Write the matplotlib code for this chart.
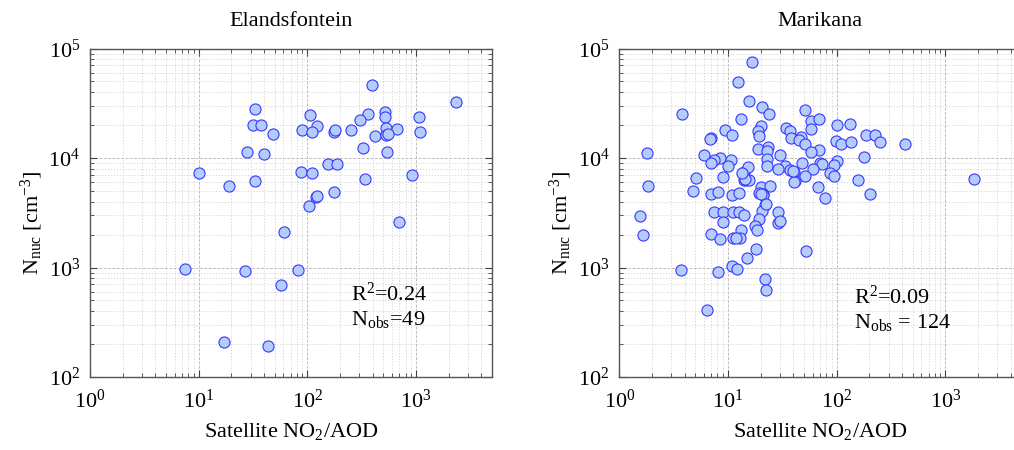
import math
import matplotlib
matplotlib.use("Agg")
import matplotlib.pyplot as plt
from matplotlib.ticker import LogLocator, NullFormatter, FuncFormatter

# -----------------------------
# Data
# -----------------------------
eland_x = [397, 2345, 33, 105, 365, 516, 513, 1062, 304, 31.8, 37.4, 122, 48.6, 90,
           111, 174, 181, 253, 527, 675, 1084, 415, 524, 550, 324, 535, 27.6, 39.9,
           10.0, 86.8, 110, 154, 189, 916, 19.0, 32.7, 338, 120, 123, 176, 103, 695,
           61.4, 7.5, 26.8, 82, 56.8, 17.2, 43.7]
eland_y = [46000, 32400, 28200, 24500, 25200, 26200, 23500, 23500, 22400, 19900,
           20100, 19600, 16700, 18100, 17300, 17400, 18000, 18100, 18800, 18300,
           17400, 15900, 16100, 16700, 12300, 11300, 11300, 10900, 7240, 7450, 7240,
           8870, 8870, 7050, 5600, 6210, 6440, 4440, 4460, 4900, 3620, 2590, 2100,
           973, 933, 946, 690, 210, 190]

marik_x = [16.7, 12.4, 15.5, 3.76, 20.4, 23.8, 13.3, 50.8, 57.7, 69.3, 100, 134, 58.2,
           9.38, 20.2, 18.8, 34.5, 37.6, 37.8, 47.4, 10.9, 6.98, 6.89, 19.1, 188, 226,
           253, 98.6, 110, 135, 424, 45.4, 51.2, 1.78, 19.0, 23.3, 23.0, 69.3, 57.7,
           30.4, 6.02, 8.51, 7.50, 10.7, 6.93, 10.0, 22.8, 22.8, 177, 101, 95.2, 70.3,
           73.3, 47.7, 33.8, 28.6, 37.1, 40.3, 60.2, 86.8, 94.6, 50.8, 41.5, 40.9, 156,
           1845, 66.9, 77.6, 204, 5.12, 4.74, 1.82, 9.06, 14.0, 15.4, 13.9, 14.7, 15.7,
           6.93, 8.09, 10.9, 12.5, 20.2, 24.6, 19.1, 20.8, 20.9, 21.8, 7.39, 9.00, 11.2,
           12.5, 14.0, 20.4, 29.0, 9.0, 19.1, 17.8, 18.6, 29.0, 30.4, 13.1, 7.03, 8.45,
           11.2, 12.8, 1.55, 1.66, 18.1, 15.0, 52.7, 10.9, 12.0, 3.71, 8.09, 21.7, 22.5,
           6.41, 11.8, 22.6, 14.3, 20.0, 40.0, 13.6]
marik_y = [75000, 49600, 32900, 25200, 29000, 25200, 22700, 27200, 21600, 22800, 20100,
           20600, 18400, 18200, 19500, 17600, 18900, 17600, 15300, 15700, 16300, 15100,
           14800, 15800, 16100, 16300, 14000, 14200, 13400, 14000, 13400, 14600, 13500,
           11200, 12200, 12500, 11600, 11800, 11300, 10700, 10700, 10100, 9660, 9590,
           8930, 8500, 9800, 8500, 10200, 9330, 8630, 9060, 8810, 8990, 8450, 7880, 7780,
           7400, 7880, 7350, 6900, 6900, 6210, 6000, 6250, 6490, 5480, 4350, 4700, 6530,
           5000, 5560, 6710, 7500, 8340, 6340, 6300, 6340, 4670, 4860, 4630, 4800, 5480,
           5520, 4770, 4730, 4550, 3720, 3220, 3180, 3220, 3220, 3000, 3290, 3240, 2610,
           2780, 2370, 2220, 2570, 2670, 2190, 2030, 1810, 1870, 1850, 2960, 1960, 1480,
           1220, 1420, 1030, 966, 946, 912, 778, 621, 406, 1850, 3800, 6450, 4650, 7600,
           7300]

sites = ["Elandsfontein", "Marikana"]
r2_text = ["R$^2$=0.24", "R$^2$=0.09"]
nobs_text = ["N$_{\\mathrm{obs}}$=49", "N$_{\\mathrm{obs}}$ = 124"]
text_pos = [(254, 498), (145, 471)]

# -----------------------------
# Style
# -----------------------------
plt.rcParams["font.family"] = ["Liberation Serif", "DejaVu Serif"]
plt.rcParams["mathtext.fontset"] = "custom"
plt.rcParams["mathtext.rm"] = "Liberation Serif"
plt.rcParams["mathtext.it"] = "Liberation Serif:italic"
plt.rcParams["mathtext.bf"] = "Liberation Serif:bold"

W, H = 1014, 450
fig = plt.figure(figsize=(W / 100, H / 100), dpi=100)
ax1 = fig.add_axes([90 / W, 73 / H, 402 / W, 328.5 / H])
ax2 = fig.add_axes([619.3 / W, 73 / H, 402 / W, 328.5 / H])

face = (0.70, 0.80, 0.98)
edge = (0.22, 0.22, 1.0)


def pow_fmt(v, pos):
    return "$10^{%d}$" % round(math.log10(v))


datasets = [(eland_x, eland_y), (marik_x, marik_y)]
for i, ax in enumerate([ax1, ax2]):
    xs, ys = datasets[i]
    ax.scatter(xs, ys, s=64, facecolor=face, edgecolor=edge, linewidths=0.8, zorder=3)
    ax.set_xscale("log")
    ax.set_yscale("log")
    ax.set_xlim(1, 5000)
    ax.set_ylim(100, 1e5)

    ax.xaxis.set_major_locator(LogLocator(base=10, numticks=10))
    ax.yaxis.set_major_locator(LogLocator(base=10, numticks=10))
    ax.xaxis.set_minor_locator(LogLocator(base=10, subs=range(2, 10), numticks=20))
    ax.yaxis.set_minor_locator(LogLocator(base=10, subs=range(2, 10), numticks=20))
    ax.xaxis.set_major_formatter(FuncFormatter(pow_fmt))
    ax.yaxis.set_major_formatter(FuncFormatter(pow_fmt))
    ax.xaxis.set_minor_formatter(NullFormatter())
    ax.yaxis.set_minor_formatter(NullFormatter())

    ax.tick_params(which="both", direction="in", top=True, right=True,
                   colors="#404040", labelcolor="black", labelsize=16)
    ax.tick_params(which="major", length=5, width=0.8)
    ax.tick_params(which="minor", length=3, width=0.6)
    ax.tick_params(axis="x", pad=9)
    ax.tick_params(axis="y", pad=7)

    ax.grid(True, which="major", color="#bdbdbd", linestyle=(0, (3, 1.5)), linewidth=0.7)
    ax.grid(True, which="minor", color="#d2d2d2", linestyle=(0, (1.5, 2)), linewidth=0.6)
    ax.set_axisbelow(True)
    for sp in ax.spines.values():
        sp.set_color("#555555")
        sp.set_linewidth(1.0)

    ax.set_title(sites[i], fontsize=16, pad=16)
    ax.set_xlabel("Satellite NO$_2$/AOD", fontsize=16, labelpad=6)
    ax.set_ylabel("N$_{\\mathrm{nuc}}$ [cm$^{-3}$]", fontsize=16)
    ax.yaxis.set_label_coords(-0.112, 0.47)

    tx, ty = text_pos[i]
    ax.text(tx, ty, r2_text[i], fontsize=16, ha="left", va="baseline")
    ax.text(tx, ty / 1.68, nobs_text[i], fontsize=16, ha="left", va="baseline")

fig.savefig("out.png", dpi=100)
